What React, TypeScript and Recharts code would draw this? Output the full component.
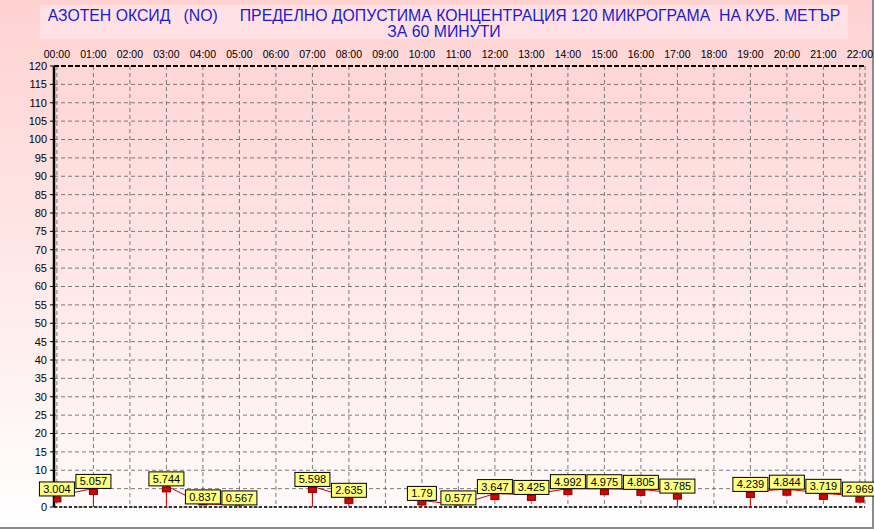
import React from 'react';
import {
  ComposedChart,
  Line,
  XAxis,
  YAxis,
  CartesianGrid,
  ReferenceLine,
  LabelList,
} from 'recharts';

// hourly NO concentration (µg/m3), null = no measurement
const HOURS = [0, 1, 2, 3, 4, 5, 6, 7, 8, 9, 10, 11, 12, 13, 14, 15, 16, 17, 18, 19, 20, 21, 22];
const HOUR_LABELS = [
  '00:00', '01:00', '02:00', '03:00', '04:00', '05:00', '06:00', '07:00', '08:00', '09:00', '10:00', '11:00',
  '12:00', '13:00', '14:00', '15:00', '16:00', '17:00', '18:00', '19:00', '20:00', '21:00', '22:00',
];
const NO_VALUES: (number | null)[] = [
  3.004, 5.057, null, 5.744, 0.837, 0.567, null, 5.598, 2.635, null, 1.79, 0.577,
  3.647, 3.425, 4.992, 4.975, 4.805, 3.785, null, 4.239, 4.844, 3.719, 2.969,
];
const Y_TICKS = [0, 5, 10, 15, 20, 25, 30, 35, 40, 45, 50, 55, 60, 65, 70, 75, 80, 85, 90, 95, 100, 105, 110, 115, 120];

const TITLE_1 = 'АЗОТЕН ОКСИД   (NO)     ПРЕДЕЛНО ДОПУСТИМА КОНЦЕНТРАЦИЯ 120 МИКРОГРАМА  НА КУБ. МЕТЪР';
const TITLE_2 = 'ЗА 60 МИНУТИ';

const FONT = "Arial, 'Liberation Sans', sans-serif";

const data = HOURS.map((h, i) => ({ h, v: NO_VALUES[i] }));

// vertical drop lines at the edges of missing hours
const drops: { h: number; v: number | null }[] = [];
NO_VALUES.forEach((v, i) => {
  if (v == null) return;
  const prevGap = i > 0 && NO_VALUES[i - 1] == null;
  const nextGap = i < NO_VALUES.length - 1 && NO_VALUES[i + 1] == null;
  if (prevGap || nextGap) {
    drops.push({ h: HOURS[i], v }, { h: HOURS[i], v: 0 }, { h: HOURS[i], v: null });
  }
});

const Marker = (props: any) => {
  const { cx, cy, payload } = props;
  if (payload == null || payload.v == null || cx == null || cy == null) return null;
  const top = Math.min(cy + 1, 500);
  return <rect x={cx - 4} y={top} width={8} height={5} fill="#dd0000" stroke="#800000" strokeWidth={1} />;
};

const ValueBox = (props: any) => {
  const { x, y, value } = props;
  if (value == null) return null;
  const txt = String(value);
  const w = txt.length * 6 + 5;
  const bottom = Math.min(y, 505);
  return (
    <g>
      <rect x={x - w / 2} y={bottom - 14} width={w} height={14} fill="#ffff80" stroke="#000" strokeWidth={1} />
      <text x={x} y={bottom - 3} textAnchor="middle" fontSize={11} fontFamily={FONT} fill="#000">
        {txt}
      </text>
    </g>
  );
};

export default function App() {
  return (
    <div
      style={{
        position: 'fixed',
        left: 0,
        top: 0,
        width: 874,
        height: 529,
        boxSizing: 'border-box',
        borderRight: '2px solid #8a8a8a',
        borderBottom: '2px solid #8a8a8a',
        background: 'linear-gradient(to bottom, #ffd2d2 0%, #ffe8e8 50%, #ffffff 100%)',
        fontFamily: FONT,
      }}
    >
      <div
        style={{
          position: 'absolute',
          left: 40,
          top: 5,
          width: 808,
          height: 34,
          background: '#ffe1e5',
          color: '#1c1cc8',
          fontSize: 15.8,
          lineHeight: '16px',
          textAlign: 'center',
          whiteSpace: 'pre',
          paddingTop: 3,
          boxSizing: 'border-box',
        }}
      >
        <div>{TITLE_1}</div>
        <div>{TITLE_2}</div>
      </div>
      <div style={{ position: 'absolute', left: 0, top: 0 }}>
        <ComposedChart width={874} height={529} data={data} margin={{ top: 36, right: 9, bottom: 22, left: 0 }}>
          <defs>
            <linearGradient id="plotBg" x1="0" y1="0" x2="0" y2="1">
              <stop offset="0%" stopColor="#ffd6d6" />
              <stop offset="100%" stopColor="#fffafa" />
            </linearGradient>
          </defs>
          <CartesianGrid stroke="#7a7a7a" strokeDasharray="4 3" fill="url(#plotBg)" fillOpacity={1} />
          <XAxis
            dataKey="h"
            type="number"
            orientation="top"
            domain={[-0.08, 22.14]}
            allowDataOverflow
            ticks={HOURS}
            tickFormatter={(h: number) => HOUR_LABELS[h] ?? ''}
            interval={0}
            height={30}
            tickLine={false}
            tickSize={6}
            tickMargin={2}
            axisLine={{ stroke: '#000', strokeWidth: 2, strokeDasharray: '5 2' }}
            tick={{ fill: '#000', fontSize: 10.5, fontFamily: FONT }}
          />
          <YAxis
            type="number"
            domain={[0, 120]}
            ticks={Y_TICKS}
            interval={0}
            width={54}
            tickSize={4}
            tickMargin={3}
            tickLine={{ stroke: '#000' }}
            axisLine={{ stroke: '#000', strokeWidth: 2.5 }}
            tick={{ fill: '#000', fontSize: 11, fontFamily: FONT }}
          />
          <YAxis
            yAxisId="right"
            orientation="right"
            width={0}
            tick={false}
            tickLine={false}
            axisLine={{ stroke: '#000', strokeWidth: 1 }}
          />
          <ReferenceLine y={0} stroke="#000" strokeWidth={1.5} strokeDasharray="3 2" />
          <Line
            data={drops}
            dataKey="v"
            stroke="#cc0000"
            strokeWidth={1}
            dot={false}
            activeDot={false}
            connectNulls={false}
            isAnimationActive={false}
          />
          <Line
            dataKey="v"
            stroke="#cc0000"
            strokeWidth={1}
            dot={<Marker />}
            activeDot={false}
            connectNulls={false}
            isAnimationActive={false}
          >
            <LabelList dataKey="v" content={<ValueBox />} />
          </Line>
        </ComposedChart>
      </div>
    </div>
  );
}
